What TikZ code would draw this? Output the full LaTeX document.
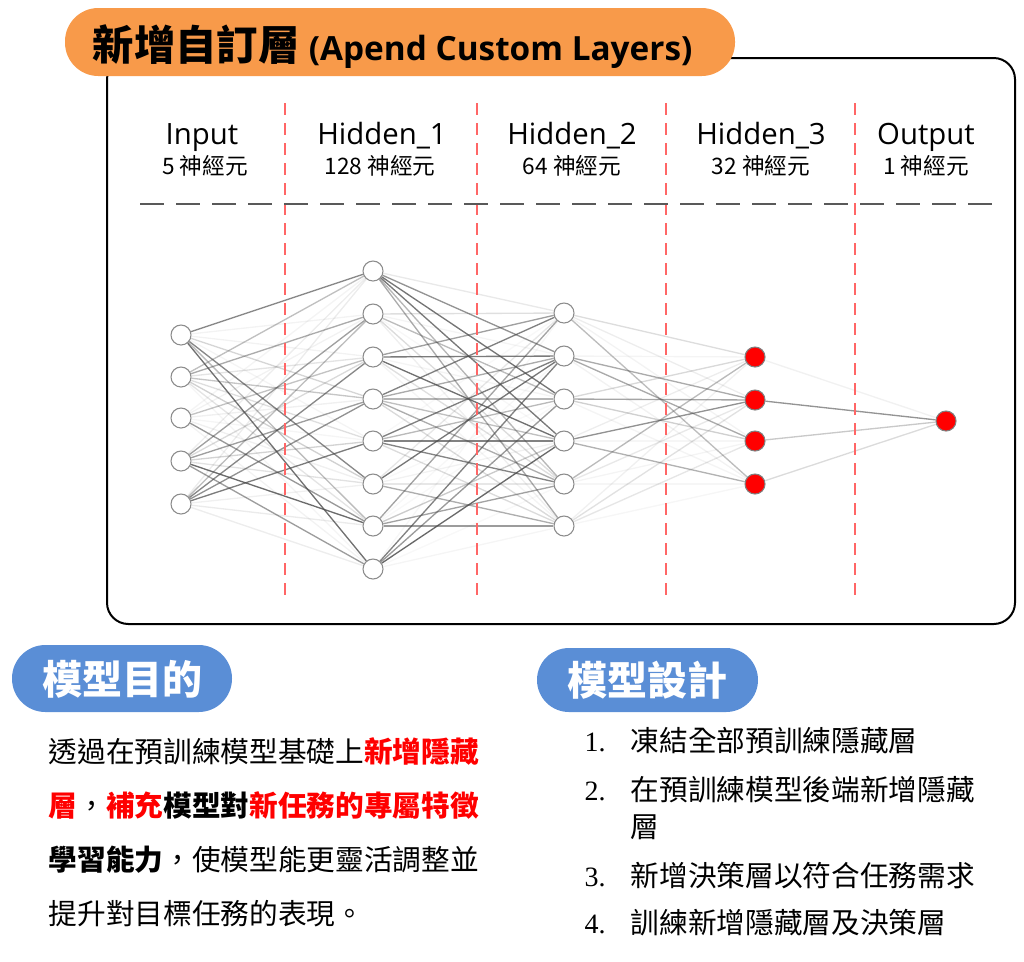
\documentclass[tikz,border=0pt]{standalone}
\usepackage{fontspec}
\setmainfont{Noto Sans CJK TC}
\newfontfamily\lat{Open Sans}
\newfontfamily\ser{Liberation Serif}
\usetikzlibrary{backgrounds}
\definecolor{org}{HTML}{F89A4A}
\definecolor{blu}{HTML}{5A8ED6}
\begin{document}
\begin{tikzpicture}[x=0.75pt,y=-0.75pt,
 neu/.style={circle,draw=black!45,fill=white,minimum size=15pt,inner sep=0pt,line width=0.8pt},
 red/.style={neu,fill=red,draw=black!50},
 vdash/.style={draw=red!60,dashed,line width=1.6pt,dash pattern=on 9pt off 6pt},
 hd/.style={font=\lat\fontsize{22}{22}\selectfont,anchor=base},
 sub/.style={font=\fontsize{17}{17}\selectfont,anchor=base},
 body/.style={font=\fontsize{21.5}{21.5}\selectfont,anchor=base west}]
\useasboundingbox (0,0) rectangle (1024,961);
\draw[line width=1.5pt,rounded corners=16pt] (107,58) rectangle (1015,624);
\fill[org,rounded corners=25pt] (65,8) rectangle (735,76);
\node[anchor=base west,font=\fontsize{31}{31}\selectfont\bfseries] (title) at (88,60) {新增自訂層 {\lat\fontsize{25}{25}\selectfont (Apend Custom Layers)}};
\foreach \x in {285,477,666,855} \draw[vdash] (\x,103) -- (\x,600);
\draw[black!65,line width=2.2pt,dash pattern=on 18pt off 9pt] (140,204) -- (1000,204);
\node[hd] (h0) at (202,144) {Input};      \node[sub] (s0) at (205,174) {5 神經元};
\node[hd] (h1) at (382,144) {Hidden\_1};  \node[sub] (s1) at (380,174) {128 神經元};
\node[hd] (h2) at (572,144) {Hidden\_2};  \node[sub] (s2) at (572,174) {64 神經元};
\node[hd] (h3) at (761,144) {Hidden\_3};  \node[sub] (s3) at (761,174) {32 神經元};
\node[hd] (h4) at (926,144) {Output};     \node[sub] (s4) at (926,174) {1 神經元};
\foreach \y [count=\i] in {335,377,418,461,504} \node[neu] (a\i) at (181,\y) {};
\foreach \y [count=\i] in {271,314,357,399,441,484,526,569} \node[neu] (b\i) at (373,\y) {};
\foreach \y [count=\i] in {313,356,399,441,484,526} \node[neu] (c\i) at (564,\y) {};
\foreach \y [count=\i] in {357,400,441,484} \node[red] (d\i) at (755,\y) {};
\node[red] (e1) at (946,421) {};
\begin{scope}[on background layer]
\pgfmathsetseed{7}
\foreach \i in {1,...,5} \foreach \j in {1,...,8}{
 \pgfmathsetmacro\op{rnd^2*0.8+0.05}
 \draw[black!70,opacity=\op,line width=1pt] (a\i) -- (b\j);}
\foreach \i in {1,...,8} \foreach \j in {1,...,6}{
 \pgfmathsetmacro\op{rnd^2*0.8+0.04}
 \draw[black!70,opacity=\op,line width=1pt] (b\i) -- (c\j);}
\foreach \i in {1,...,6} \foreach \j in {1,...,4}{
 \pgfmathsetmacro\op{rnd^2*0.8+0.05}
 \draw[black!70,opacity=\op,line width=1pt] (c\i) -- (d\j);}
\draw[black!70,opacity=0.08,line width=1pt] (d1) -- (e1);
\draw[black!70,opacity=0.6,line width=1pt] (d2) -- (e1);
\draw[black!70,opacity=0.3,line width=1pt] (d3) -- (e1);
\draw[black!70,opacity=0.2,line width=1pt] (d4) -- (e1);
\end{scope}
\fill[blu,rounded corners=25pt] (12,645) rectangle (232,712);
\node[white,font=\fontsize{30}{30}\selectfont\bfseries] (p1) at (122,679) {模型目的};
\fill[blu,rounded corners=24pt] (537,648) rectangle (758,712);
\node[white,font=\fontsize{30}{30}\selectfont\bfseries] (p2) at (647,680) {模型設計};
\node[body] (l1) at (44,762) {透過在預訓練模型基礎上\textcolor{red}{\bfseries 新增隱藏}};
\node[body] (l2) at (44,816) {\textcolor{red}{\bfseries 層}，\textcolor{red}{\bfseries 補充}\textbf{模型對}\textcolor{red}{\bfseries 新任務的專屬特徵}};
\node[body] (l3) at (44,870) {\textbf{學習能力}，使模型能更靈活調整並};
\node[body] (l4) at (44,924) {提升對目標任務的表現。};
\foreach \n/\y/\t in {1/751/凍結全部預訓練隱藏層,2/800/在預訓練模型後端新增隱藏,3/886/新增決策層以符合任務需求,4/933/訓練新增隱藏層及決策層}{
 \node[body,font=\ser\fontsize{21}{21}\selectfont] (n\n) at (580,\y) {\n.};
 \node[body] (t\n) at (626,\y) {\t};}
\node[body] (t2b) at (626,837) {層};
\end{tikzpicture}
\end{document}
